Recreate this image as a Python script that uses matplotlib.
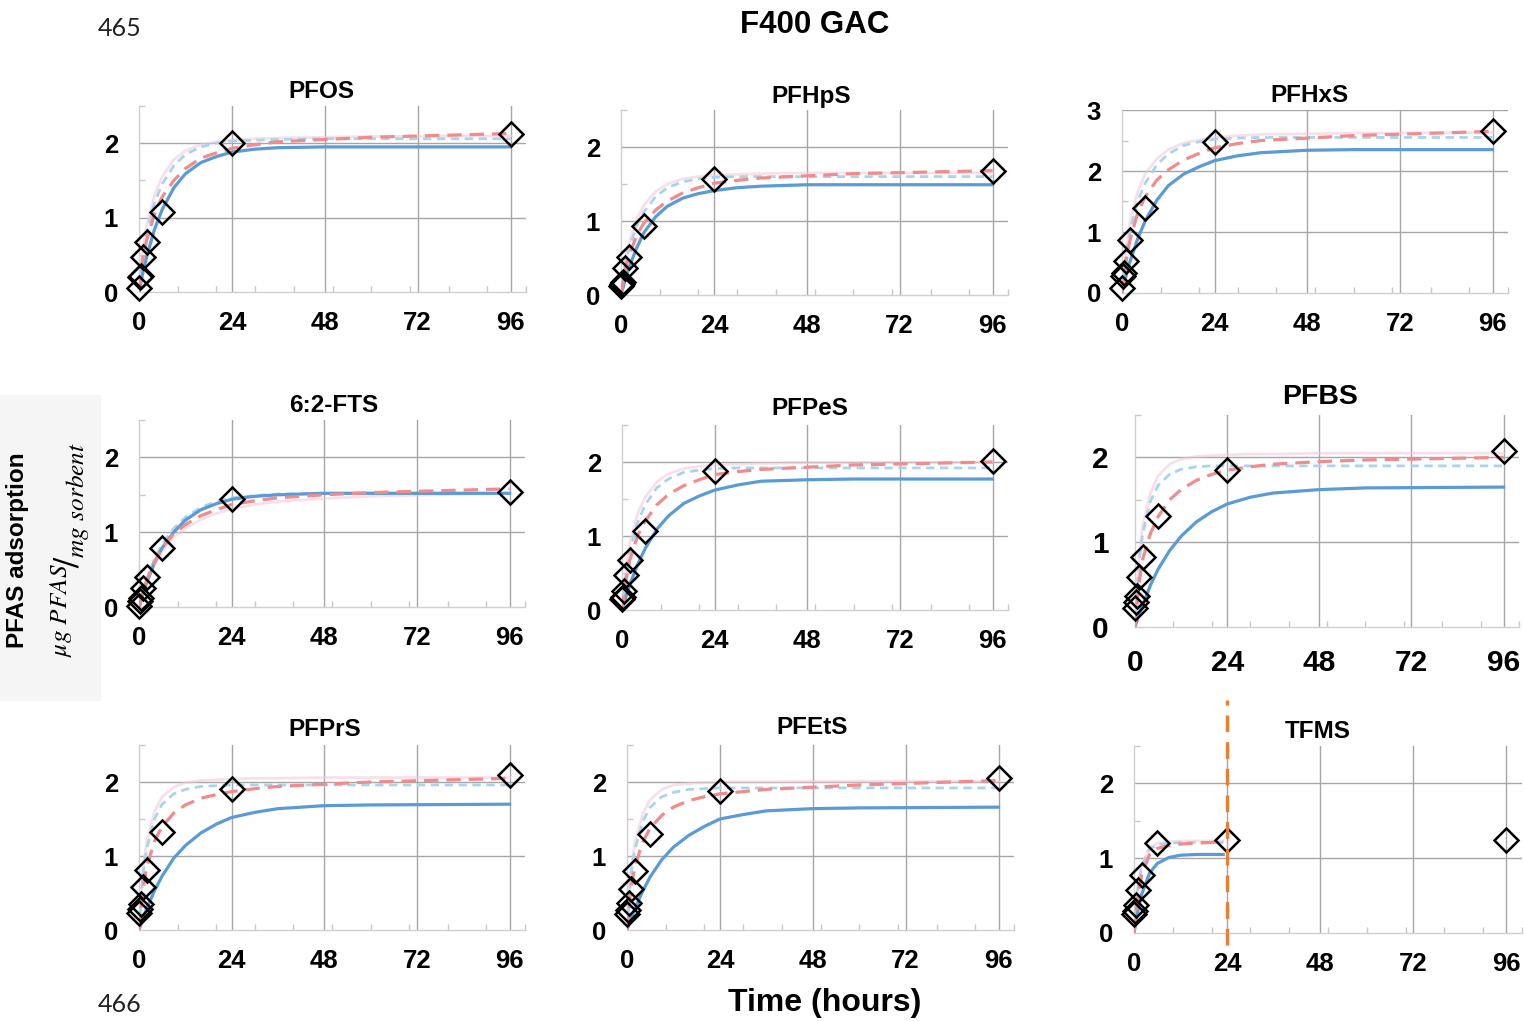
import matplotlib.pyplot as plt
from matplotlib.patches import Rectangle
from matplotlib.ticker import MultipleLocator

plt.rcParams['font.family'] = ['Liberation Sans', 'DejaVu Sans']
plt.rcParams['mathtext.fontset'] = 'stix'

W, H = 1524, 1021

names = ['PFOS', 'PFHpS', 'PFHxS', '6:2-FTS', 'PFPeS', 'PFBS', 'PFPrS', 'PFEtS', 'TFMS']

# sampling times (h) of the measured points
t_obs = [0.083, 0.25, 0.5, 1, 2, 6, 24, 96]
q_obs = [
    [0.05, 0.20, 0.22, 0.47, 0.67, 1.07, 2.00, 2.12],
    [0.12, 0.15, 0.17, 0.37, 0.52, 0.93, 1.57, 1.67],
    [0.08, 0.28, 0.32, 0.53, 0.87, 1.40, 2.48, 2.65],
    [0.02, 0.08, 0.12, 0.26, 0.40, 0.79, 1.44, 1.54],
    [0.15, 0.18, 0.25, 0.47, 0.68, 1.07, 1.88, 2.01],
    [0.22, 0.30, 0.36, 0.59, 0.82, 1.31, 1.85, 2.08],
    [0.23, 0.28, 0.35, 0.58, 0.81, 1.33, 1.91, 2.09],
    [0.21, 0.27, 0.36, 0.56, 0.80, 1.30, 1.88, 2.06],
    [0.26, 0.30, 0.37, 0.57, 0.77, 1.20, 1.25, 1.24],
]

# model curves
t_fit = [0, 1, 2, 4, 6, 9, 12, 16, 20, 24, 30, 36, 48, 60, 96]
t_fit_short = [0, 1, 2, 4, 6, 9, 12, 16, 23]   # TFMS curves stop at 24 h

q_blue = [
    [0, 0.26, 0.48, 0.84, 1.11, 1.40, 1.59, 1.74, 1.82, 1.88, 1.92, 1.94, 1.95, 1.95, 1.95],
    [0, 0.19, 0.36, 0.63, 0.85, 1.06, 1.20, 1.31, 1.37, 1.41, 1.45, 1.47, 1.49, 1.49, 1.49],
    [0, 0.27, 0.50, 0.88, 1.18, 1.52, 1.76, 1.95, 2.07, 2.17, 2.25, 2.30, 2.34, 2.35, 2.35],
    [0, 0.17, 0.33, 0.59, 0.79, 1.00, 1.16, 1.30, 1.38, 1.44, 1.48, 1.50, 1.52, 1.52, 1.52],
    [0, 0.18, 0.34, 0.61, 0.83, 1.09, 1.27, 1.44, 1.54, 1.62, 1.69, 1.74, 1.76, 1.77, 1.77],
    [0, 0.14, 0.26, 0.49, 0.68, 0.90, 1.07, 1.24, 1.36, 1.45, 1.53, 1.58, 1.62, 1.64, 1.65],
    [0, 0.15, 0.29, 0.53, 0.73, 0.97, 1.14, 1.31, 1.43, 1.52, 1.59, 1.64, 1.68, 1.69, 1.70],
    [0, 0.15, 0.28, 0.52, 0.72, 0.95, 1.12, 1.28, 1.40, 1.50, 1.56, 1.61, 1.64, 1.65, 1.66],
    [0, 0.30, 0.52, 0.80, 0.93, 1.01, 1.04, 1.05, 1.05],
]
q_red = [
    [0, 0.45, 0.70, 1.05, 1.28, 1.50, 1.66, 1.80, 1.87, 1.93, 1.98, 2.02, 2.05, 2.08, 2.13],
    [0, 0.32, 0.52, 0.80, 0.98, 1.15, 1.27, 1.38, 1.45, 1.51, 1.55, 1.58, 1.61, 1.64, 1.68],
    [0, 0.50, 0.85, 1.30, 1.58, 1.85, 2.02, 2.18, 2.29, 2.38, 2.45, 2.50, 2.54, 2.58, 2.65],
    [0, 0.20, 0.36, 0.60, 0.79, 0.98, 1.10, 1.22, 1.30, 1.37, 1.42, 1.46, 1.50, 1.53, 1.58],
    [0, 0.40, 0.67, 1.00, 1.20, 1.42, 1.56, 1.68, 1.76, 1.83, 1.87, 1.90, 1.93, 1.96, 2.00],
    [0, 0.50, 0.80, 1.10, 1.30, 1.50, 1.62, 1.73, 1.80, 1.85, 1.89, 1.92, 1.95, 1.97, 2.00],
    [0, 0.55, 0.85, 1.20, 1.40, 1.58, 1.69, 1.78, 1.83, 1.87, 1.91, 1.94, 1.97, 2.00, 2.05],
    [0, 0.55, 0.85, 1.18, 1.38, 1.55, 1.66, 1.75, 1.80, 1.84, 1.87, 1.90, 1.93, 1.96, 2.02],
    [0, 0.50, 0.78, 1.05, 1.13, 1.17, 1.19, 1.20, 1.22],
]
q_lblue = [
    [0, 0.50, 0.80, 1.20, 1.45, 1.70, 1.85, 1.95, 2.00, 2.03, 2.04, 2.05, 2.06, 2.06, 2.06],
    [0, 0.38, 0.62, 0.93, 1.13, 1.33, 1.45, 1.53, 1.57, 1.59, 1.60, 1.60, 1.60, 1.60, 1.60],
    [0, 0.60, 1.00, 1.50, 1.80, 2.10, 2.28, 2.42, 2.48, 2.52, 2.54, 2.55, 2.55, 2.55, 2.55],
    [0, 0.20, 0.37, 0.64, 0.84, 1.05, 1.20, 1.33, 1.41, 1.46, 1.49, 1.51, 1.52, 1.52, 1.52],
    [0, 0.45, 0.78, 1.18, 1.42, 1.65, 1.77, 1.86, 1.89, 1.91, 1.92, 1.92, 1.92, 1.92, 1.92],
    [0, 0.75, 1.10, 1.48, 1.67, 1.80, 1.86, 1.89, 1.90, 1.90, 1.90, 1.90, 1.90, 1.90, 1.90],
    [0, 0.75, 1.10, 1.50, 1.70, 1.84, 1.90, 1.94, 1.95, 1.96, 1.96, 1.96, 1.96, 1.96, 1.96],
    [0, 0.75, 1.08, 1.46, 1.66, 1.80, 1.86, 1.90, 1.91, 1.92, 1.92, 1.92, 1.92, 1.92, 1.92],
    [0, 0.60, 0.90, 1.12, 1.18, 1.20, 1.21, 1.21, 1.21],
]
q_pink = [
    [0, 0.60, 0.90, 1.30, 1.55, 1.78, 1.90, 1.98, 2.02, 2.04, 2.06, 2.07, 2.08, 2.09, 2.10],
    [0, 0.45, 0.70, 1.02, 1.22, 1.40, 1.50, 1.57, 1.60, 1.62, 1.63, 1.64, 1.65, 1.65, 1.65],
    [0, 0.72, 1.15, 1.65, 1.95, 2.20, 2.35, 2.46, 2.51, 2.55, 2.58, 2.60, 2.61, 2.62, 2.63],
    [0, 0.18, 0.33, 0.56, 0.74, 0.93, 1.05, 1.17, 1.25, 1.31, 1.37, 1.41, 1.45, 1.48, 1.52],
    [0, 0.55, 0.90, 1.30, 1.52, 1.73, 1.84, 1.91, 1.94, 1.96, 1.97, 1.98, 1.99, 1.99, 2.00],
    [0, 0.80, 1.20, 1.58, 1.78, 1.92, 1.98, 2.01, 2.02, 2.03, 2.04, 2.04, 2.05, 2.05, 2.05],
    [0, 0.82, 1.20, 1.60, 1.80, 1.93, 1.99, 2.02, 2.03, 2.04, 2.05, 2.05, 2.06, 2.06, 2.06],
    [0, 0.80, 1.18, 1.56, 1.76, 1.90, 1.96, 1.98, 1.99, 2.00, 2.00, 2.00, 2.01, 2.01, 2.01],
    [0, 0.62, 0.92, 1.14, 1.20, 1.22, 1.23, 1.23, 1.23],
]

x_ticks = [0, 24, 48, 72, 96]

# axes boxes in pixels: left, right, top, bottom
boxes = [(139, 526, 106, 292), (621, 1008, 110, 295), (1122, 1508, 110, 293),
         (139, 525, 420, 607), (622, 1008, 425, 610), (1135, 1519, 415, 627),
         (139, 525, 745, 930), (627, 1014, 745, 930), (1134, 1522, 746, 933)]
title_xy = [(321, 91), (811, 96), (1310, 95), (334, 405), (810, 408), (1320, 397),
            (325, 729), (812, 728), (1318, 731)]

fig = plt.figure(figsize=(W / 100, H / 100), dpi=100)

# faint box behind the y label
fig.patches.append(Rectangle((0, 1 - 700 / H), 100 / W, 305 / H, transform=fig.transFigure,
                             color='#f5f5f5', zorder=0))

for i, name in enumerate(names):
    l, r, t, b = boxes[i]
    ax = fig.add_axes([l / W, 1 - b / H, (r - l) / W, (b - t) / H])
    big = name == 'PFBS'
    ymax = 3.0 if name == 'PFHxS' else 2.5
    tf = t_fit_short if name == 'TFMS' else t_fit

    ax.plot(tf, q_pink[i], color='#f4c7dc', lw=2, alpha=0.55, zorder=2)
    ax.plot(tf, q_lblue[i], color='#a9d4ee', lw=2, dashes=(3, 2), zorder=3)
    ax.plot(tf, q_blue[i], color='#5b9bd5', lw=2.3, zorder=4)
    ax.plot(tf, q_red[i], color='#f08c8c', lw=2.3, dashes=(4.5, 2.5), zorder=5)
    ax.plot(t_obs, q_obs[i], ls='none', marker='D', ms=12, mfc='none', mec='black',
            mew=1.8, zorder=6, clip_on=False)

    for xv in x_ticks[1:]:
        ax.axvline(xv, color='#a6a6a6', lw=1, zorder=1)
    for yv in range(1, int(ymax) + 1):
        ax.axhline(yv, color='#a6a6a6', lw=1, zorder=1)

    ax.set_xlim(0, 100)
    ax.set_ylim(0, ymax)
    ax.set_xticks(x_ticks)
    ax.set_yticks(range(0, int(ymax) + 1))
    ax.xaxis.set_minor_locator(MultipleLocator(10))
    ax.yaxis.set_minor_locator(MultipleLocator(0.5))
    fs = 21.5 if big else 18.5
    ax.tick_params(which='major', length=0, labelsize=fs)
    ax.tick_params(axis='x', which='major', pad=16 if big else 14)
    ax.tick_params(axis='y', which='major', pad=19 if big else 15)
    ax.tick_params(which='minor', direction='in', length=4, color='#c8c8c8', width=1)
    for lab in ax.get_xticklabels() + ax.get_yticklabels():
        lab.set_fontweight('bold')
    for side in ['top', 'right']:
        ax.spines[side].set_visible(False)
    for side in ['left', 'bottom']:
        ax.spines[side].set_color('#d0d0d0')
        ax.spines[side].set_linewidth(1)

    fig.text(title_xy[i][0] / W, 1 - title_xy[i][1] / H, name, ha='center', va='center',
             fontsize=20.5 if big else 17.5, fontweight='bold')

    if name == 'TFMS':
        bot = (b - 945) / (b - t)
        top = (b - 700) / (b - t)
        ax.axvline(24, ymin=bot, ymax=top, color='#ed7d31', lw=2.4, dashes=(5, 3),
                   clip_on=False, zorder=7)

fig.text(815 / W, 1 - 25 / H, 'F400 GAC', ha='center', va='center', fontsize=22.5,
         fontweight='bold')
fig.text(825 / W, 1 - 1003 / H, 'Time (hours)', ha='center', va='center', fontsize=23,
         fontweight='bold')
fig.text(18 / W, 1 - 550 / H, 'PFAS adsorption', rotation=90, ha='center', va='center',
         fontsize=17.5, fontweight='bold')
fig.text(70 / W, 1 - 550 / H, r'${}^{\mu g\ PFAS}\!/_{mg\ sorbent}$', rotation=90,
         ha='center', va='center', fontsize=26)
fig.text(120 / W, 1 - 28 / H, '465', ha='center', va='center', fontsize=18, family='Lato',
         color='#222222')
fig.text(120 / W, 1 - 1004 / H, '466', ha='center', va='center', fontsize=18, family='Lato',
         color='#222222')

fig.savefig('out.png', dpi=100)
